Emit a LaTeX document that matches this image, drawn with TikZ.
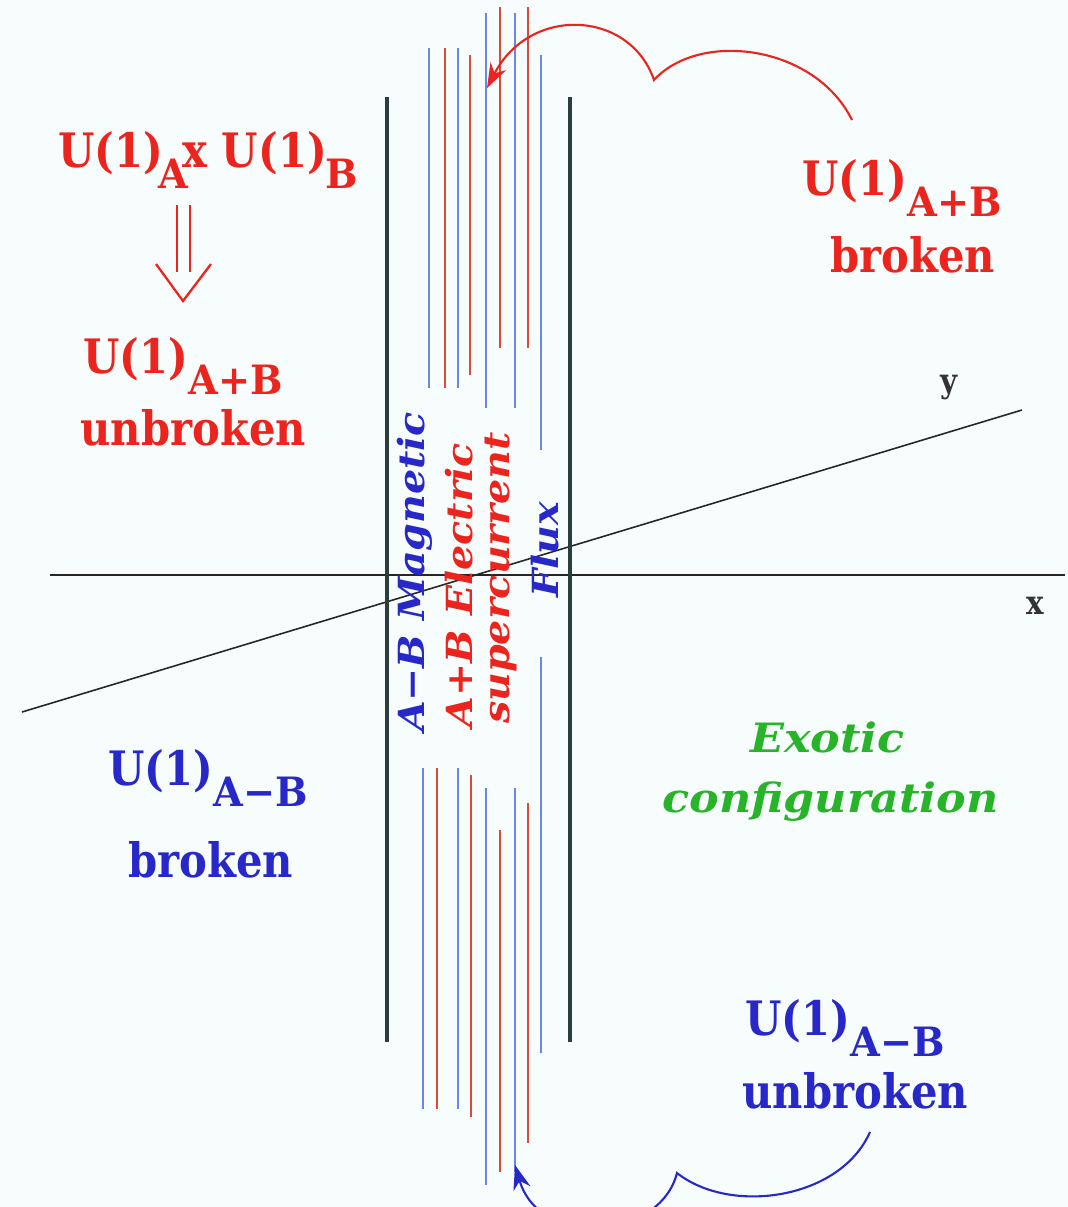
\documentclass[tikz,border=0pt]{standalone}
\usepackage{fontspec}
\setmainfont{DejaVu Serif}[FakeStretch=0.88]
\newfontfamily\subfam[FakeStretch=0.95]{DejaVu Serif}
\newfontfamily\itfam[FakeStretch=1.1]{DejaVu Serif}
\usetikzlibrary{arrows.meta}
\definecolor{bgc}{RGB}{247,252,252}
\definecolor{lred}{RGB}{236,36,30}
\definecolor{lblue}{RGB}{40,40,200}
\definecolor{lgreen}{RGB}{40,180,40}
\definecolor{fblue}{RGB}{105,135,228}
\definecolor{fred}{RGB}{216,74,58}
\definecolor{wallc}{RGB}{45,60,60}
\newcommand\lblsize{\fontsize{27}{30}\selectfont\bfseries}
\newcommand\sbs[1]{\raisebox{-12.5pt}{\fontsize{23}{24}\selectfont\subfam\bfseries #1}}
\newcommand\rotsize{\fontsize{20.5}{22}\selectfont\itfam\bfseries\itshape}
\begin{document}
\begin{tikzpicture}[x=0.02cm,y=-0.02cm,
  fluxb/.style={fblue,line width=1.1pt},
  fluxr/.style={fred,line width=1.7pt},
  wall/.style={wallc,line width=2.8pt},
  axisline/.style={black!85,line width=0.9pt},
  lbl/.style={anchor=base west,inner sep=0pt,font=\lblsize},
  rottext/.style={rotate=90,anchor=center,inner sep=0pt,font=\rotsize},
  greentext/.style={anchor=base west,inner sep=0pt,font=\fontsize{23}{26}\selectfont\itfam\bfseries\itshape,text=lgreen},
  curvearrow/.style={line width=1.2pt,-{Stealth[length=14pt,width=10pt]}}]
\useasboundingbox (0,0) rectangle (1068,1207);
\fill[bgc] (0,0) rectangle (1068,1207);
\clip (0,0) rectangle (1068,1207);

% axes
\coordinate (xl) at (50,575); \coordinate (xr) at (1065,575);
\coordinate (yl) at (22,712); \coordinate (yr) at (1022,410);
\draw[axisline] (xl) -- (xr);
\draw[axisline] (yl) -- (yr);
\node[font=\fontsize{19}{20}\selectfont\bfseries,text=black!80,inner sep=0pt] (xlab) at (1035,606) {x};
\node[font=\fontsize{19}{20}\selectfont\bfseries,text=black!80,inner sep=0pt] (ylab) at (949,388) {y};

% walls
\draw[wall] (387,97) -- (387,1042);
\draw[wall] (570,97) -- (570,1042);

% upper flux lines
\draw[fluxb] (429,48) -- (429,388);
\draw[fluxr] (445,48) -- (445,388);
\draw[fluxb] (458,48) -- (458,388);
\draw[fluxr] (470,55) -- (470,375);
\draw[fluxb] (486,13) -- (486,408);
\draw[fluxr] (500,7) -- (500,348);
\draw[fluxb] (515,13) -- (515,408);
\draw[fluxr] (528,7) -- (528,348);
\draw[fluxb] (541,55) -- (541,450);
% lower flux lines
\draw[fluxb] (541,657) -- (541,1053);
\draw[fluxb] (423,768) -- (423,1109);
\draw[fluxr] (437,768) -- (437,1109);
\draw[fluxb] (458,768) -- (458,1109);
\draw[fluxr] (471,775) -- (471,1117);
\draw[fluxb] (486,788) -- (486,1185);
\draw[fluxr] (500,830) -- (500,1172);
\draw[fluxb] (515,788) -- (515,1172);
\draw[fluxr] (528,803) -- (528,1143);

% rotated central text
\node[rottext,text=lblue] (mag) at (415,572) {A−B Magnetic};
\node[rottext,text=lred] (ele) at (459,585) {A+B Electric};
\node[rottext,text=lred] (sup) at (501,578) {supercurrent};
\node[rottext,text=lblue] (flux) at (545,550) {Flux};

% labels
\node[lbl,text=lred] (tl) at (58,167) {U(1)\kern-3pt\sbs{A}\kern-3pt x U(1)\kern-1pt\sbs{B}};
\node[lbl,text=lred] (ml1) at (83,373) {U(1)\sbs{A+B}};
\node[lbl,text=lred] (ml2) at (80,445) {unbroken};
\node[lbl,text=lred] (rt1) at (802,195) {U(1)\sbs{A+B}};
\node[lbl,text=lred] (rt2) at (830,272) {broken};
\node[lbl,text=lblue] (bl1) at (108,785) {U(1)\sbs{A−B}};
\node[lbl,text=lblue] (bl2) at (128,877) {broken};
\node[lbl,text=lblue] (br1) at (745,1035) {U(1)\sbs{A−B}};
\node[lbl,text=lblue] (br2) at (742,1108) {unbroken};
\node[greentext] (ex1) at (750,752) {Exotic};
\node[greentext] (ex2) at (662,812) {configuration};

% implication arrow
\draw[lred,line width=1.3pt] (177,205) -- (177,272) (190,205) -- (190,272);
\draw[lred,line width=1.3pt] (156,264) -- (183,301) -- (211,264);

% curved arrows
\coordinate (rs) at (852,120);
\coordinate (rc) at (654,80);
\coordinate (re) at (487,88);
\draw[lred,curvearrow] (rs) .. controls (815,45) and (700,30) .. (rc)
   .. controls (630,10) and (530,5) .. (re);
\coordinate (bs) at (870,1132);
\coordinate (bc) at (677,1173);
\coordinate (be) at (515,1165);
\draw[lblue,curvearrow] (bs) .. controls (840,1200) and (730,1215) .. (bc)
   .. controls (660,1240) and (540,1250) .. (be);
\end{tikzpicture}
\end{document}
